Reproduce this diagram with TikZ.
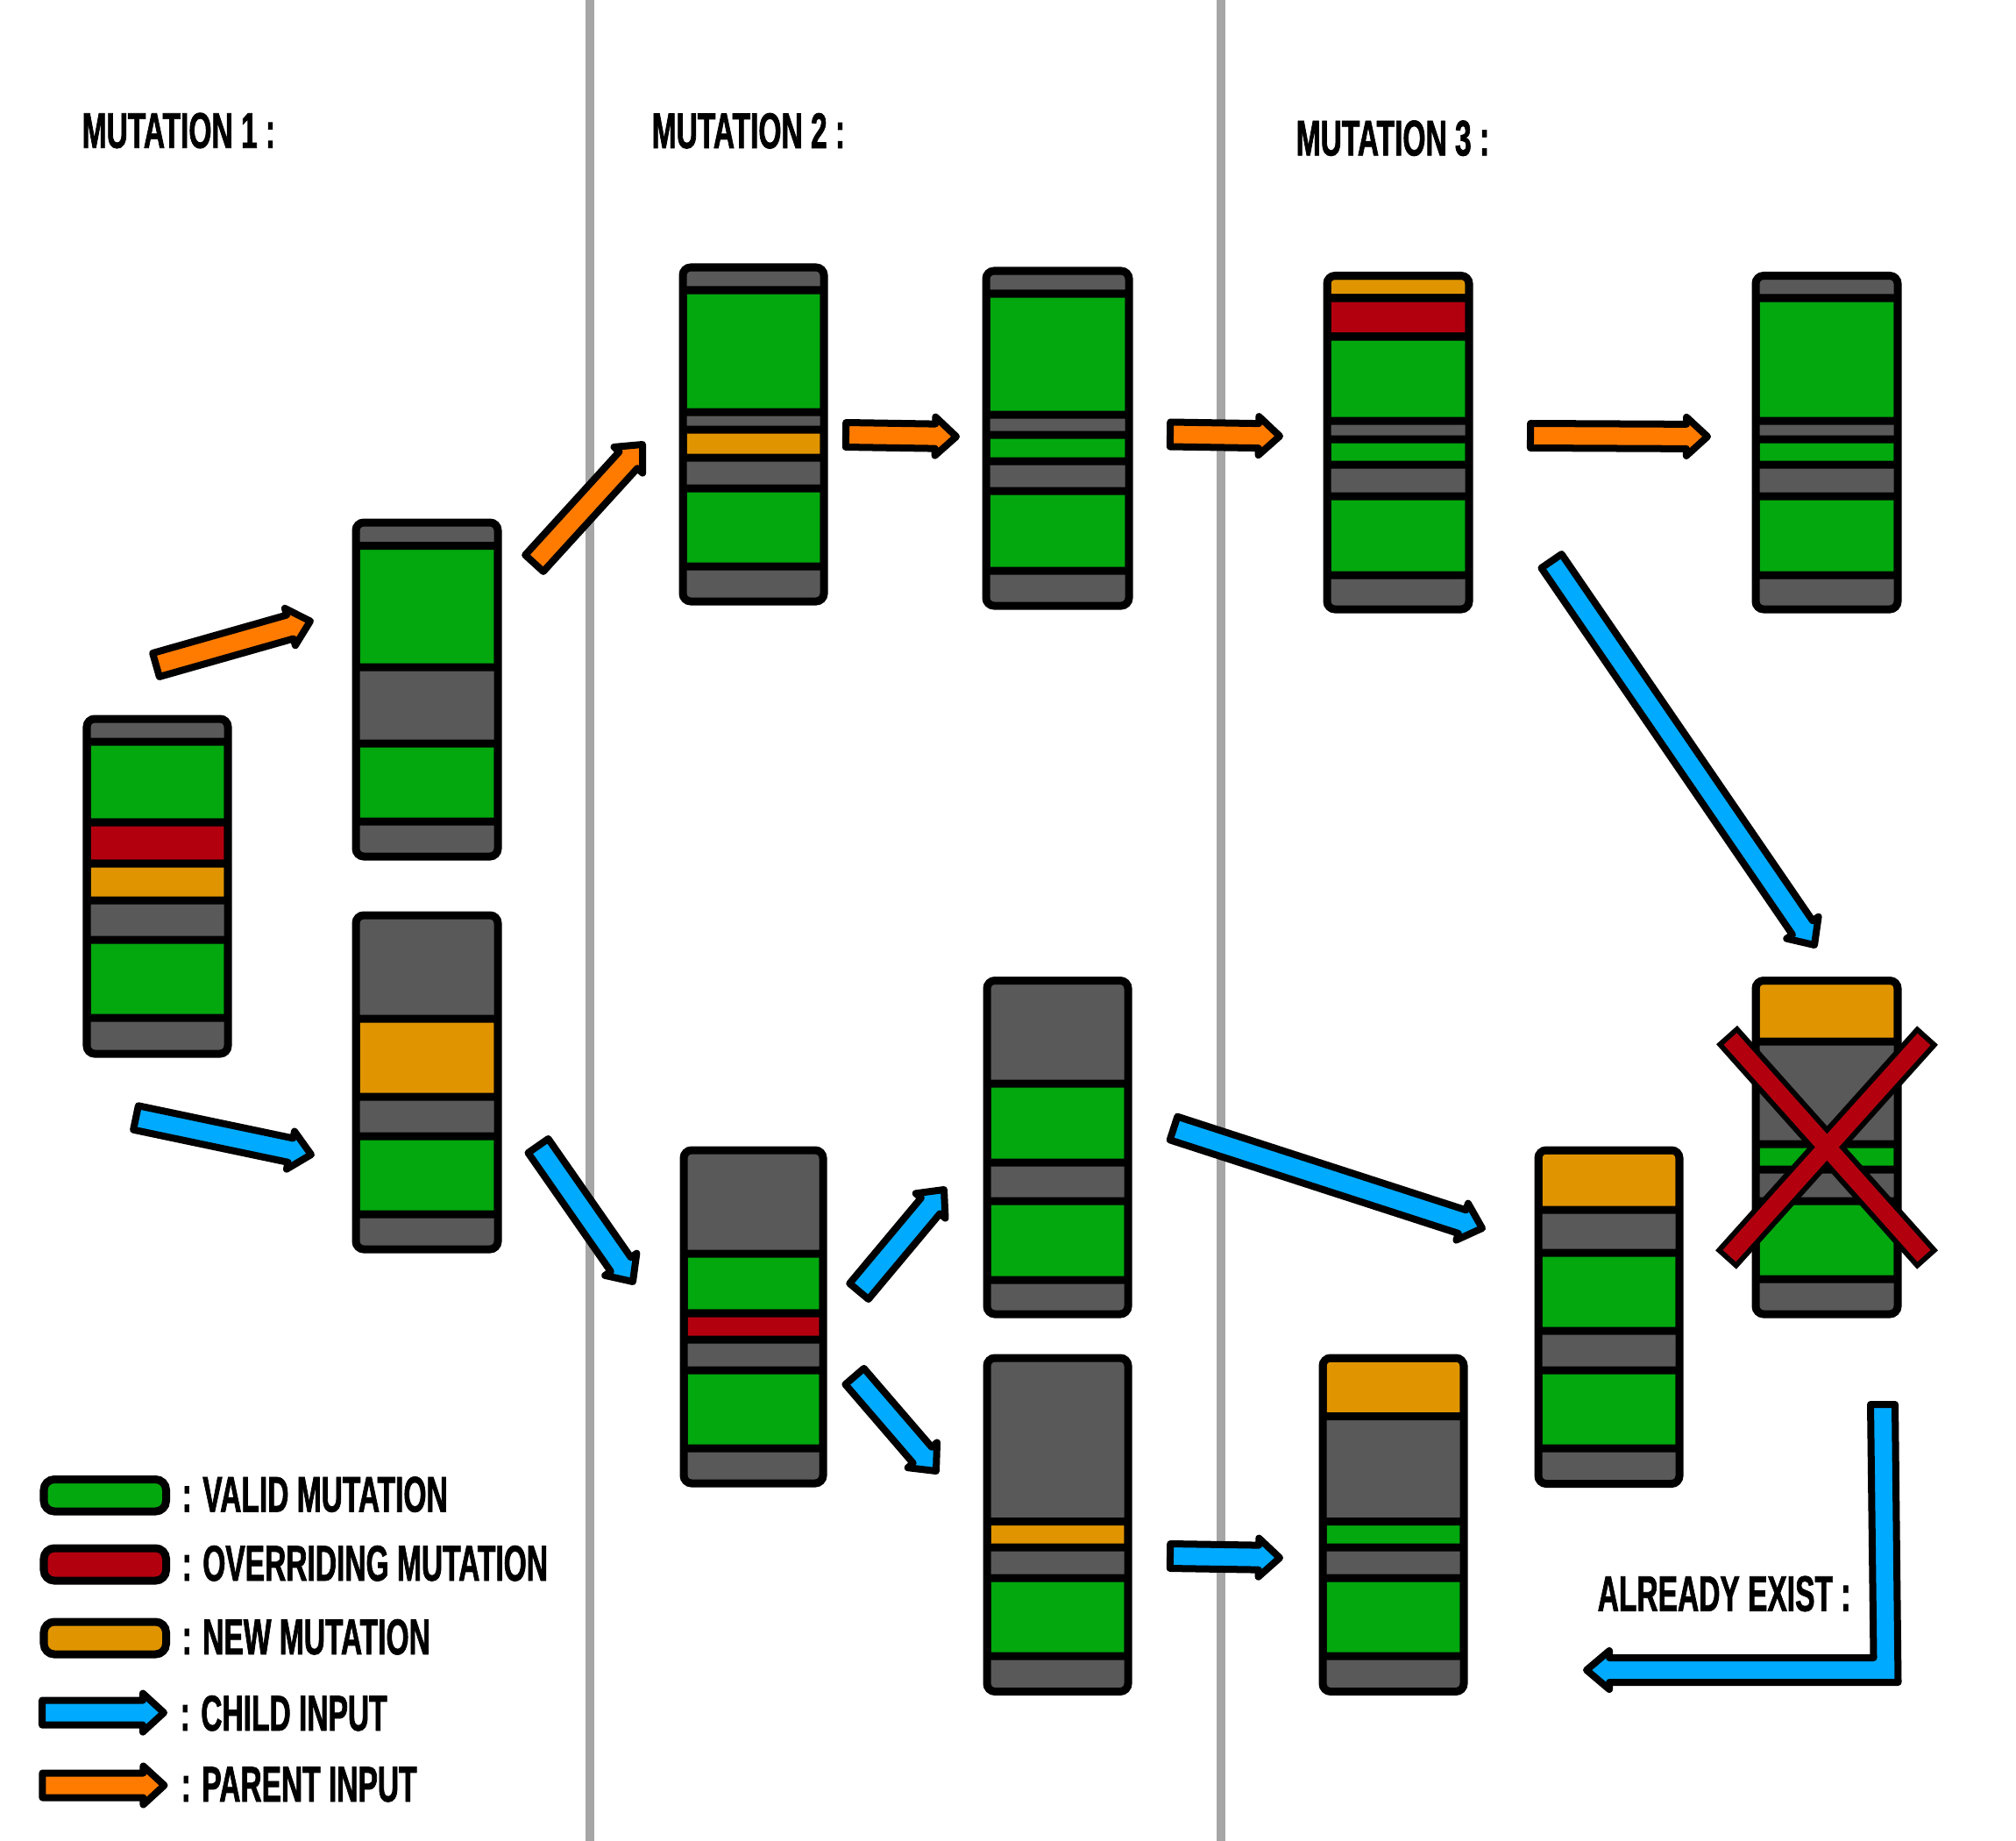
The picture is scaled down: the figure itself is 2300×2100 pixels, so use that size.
\documentclass[tikz,border=0pt]{standalone}
\usepackage{fontspec}
\newfontfamily\labelfont[FakeStretch=0.585, FakeBold=1.2]{Liberation Sans}
\usetikzlibrary{calc}

\definecolor{chromgray}{HTML}{595959}
\definecolor{vgreen}{HTML}{02A80E}
\definecolor{ored}{HTML}{B3000F}
\definecolor{norange}{HTML}{E09500}
\definecolor{childblue}{HTML}{00AAFF}
\definecolor{parentorange}{HTML}{FF7B00}
\definecolor{divider}{HTML}{A6A6A6}

% arrow sizes (half shaft, half head, head length)
\def\arrhw{0.14cm}
\def\arrhh{0.22cm}
\def\arrhl{0.24cm}

% #1 name, #2 left, #3 top, #4 right, #5 bottom, #6 bands top/bottom/colour
\newcommand{\chromo}[6]{%
  \coordinate (#1) at ({(#2+#4)/2},{(#3+#5)/2});
  \begin{scope}
    \clip[rounded corners=0.09cm] (#2,#3) rectangle (#4,#5);
    \fill[chromgray] (#2,#3) rectangle (#4,#5);
    \foreach \ya/\yb/\col in {#6}
      \draw[band, fill=\col] (#2,\ya) rectangle (#4,\yb);
  \end{scope}
  \draw[chromline] (#2,#3) rectangle (#4,#5);
}

% #1 colour, #2 tail, #3 tip
\newcommand{\blockarrow}[3]{%
  \draw[arrowline, fill=#1] let \p1=($(#3)-(#2)$), \n1={atan2(\y1,\x1)},
      \n2={\n1+90}, \n3={\n1-90}, \n4={\n1+180} in
    ($(#2)+(\n2:\arrhw)$) -- ($(#3)+(\n4:\arrhl)+(\n2:\arrhw)$)
    -- ($(#3)+(\n4:\arrhl)+(\n2:\arrhh)$) -- (#3)
    -- ($(#3)+(\n4:\arrhl)+(\n3:\arrhh)$) -- ($(#3)+(\n4:\arrhl)+(\n3:\arrhw)$)
    -- ($(#2)+(\n3:\arrhw)$) -- cycle;
}

\begin{document}
\begin{tikzpicture}[x=0.01cm, y=-0.01cm,
  chromline/.style={draw=black, line width=0.09cm, rounded corners=0.09cm},
  band/.style={draw=black, line width=0.09cm, rounded corners=0.03cm},
  arrowline/.style={draw=black, line width=0.08cm, line join=round},
  swatch/.style={draw=black, line width=0.09cm, rounded corners=0.12cm},
  headtext/.style={anchor=base west, inner sep=0pt,
    font=\labelfont\bfseries\fontsize{16.3pt}{18pt}\selectfont}]
\useasboundingbox (0,0) rectangle (2300,2100);

% column dividers
\draw[divider, line width=0.1cm] (673,0) -- (673,2100);
\draw[divider, line width=0.1cm] (1393,0) -- (1393,2100);

% titles
\node[headtext] (mut1) at (93,168.7) {MUTATION 1 :};
\node[headtext] (mut2) at (743,169) {MUTATION 2 :};
\node[headtext] (mut3) at (1478,177.4) {MUTATION 3 :};

% mutation 1
\chromo{chA}{99}{820}{260}{1202}{846/938/vgreen, 938/985/ored, 985/1027/norange, 1072/1161/vgreen}
\chromo{chB}{406}{596}{568}{977}{622.5/761/vgreen, 848/937/vgreen}
\chromo{chC}{406}{1044}{568}{1425}{1162/1251/norange, 1296/1385/vgreen}

% mutation 2
\chromo{chD}{779}{305}{940}{686}{331/470/vgreen, 490/522/norange, 557/646/vgreen}
\chromo{chE}{780}{1312}{939}{1692}{1430/1498/vgreen, 1498/1528/ored, 1563/1652/vgreen}
\chromo{chF}{1125}{309}{1288}{691}{335/473/vgreen, 496/526/vgreen, 560/651/vgreen}
\chromo{chG}{1126}{1118.5}{1287}{1499}{1236/1326/vgreen, 1370/1460/vgreen}
\chromo{chH}{1126}{1549}{1287}{1929.5}{1735.5/1765/norange, 1800/1889/vgreen}

% mutation 3
\chromo{chI}{1514}{314.5}{1676}{695}{314.5/340/norange, 340/384/ored, 384/480/vgreen, 501/530/vgreen, 566/656/vgreen}
\chromo{chJ}{2003}{314.5}{2165}{695}{340/480/vgreen, 501/530/vgreen, 566/656/vgreen}
\chromo{chK}{1509}{1549}{1670}{1929.5}{1549/1615.5/norange, 1735.5/1765/vgreen, 1800/1889/vgreen}
\chromo{chL}{1755}{1312}{1916}{1692.5}{1312/1380/norange, 1429/1518/vgreen, 1563/1652/vgreen}
\chromo{chM}{2003}{1118.5}{2165}{1499}{1118.5/1188/norange, 1305/1334/vgreen, 1370/1459/vgreen}

% arrow ends
\coordinate (o1s) at (178,758.5);   \coordinate (o1e) at (354,708.5);
\coordinate (o2s) at (609.5,642.5); \coordinate (o2e) at (733,507);
\coordinate (o3s) at (965,496);     \coordinate (o3e) at (1091,498);
\coordinate (o4s) at (1335,495.5);  \coordinate (o4e) at (1460,497.5);
\coordinate (o5s) at (1746,497);    \coordinate (o5e) at (1948,498);
\coordinate (b1s) at (155,1275);    \coordinate (b1e) at (355,1317);
\coordinate (b2s) at (614,1307);    \coordinate (b2e) at (722,1462);
\coordinate (b3s) at (980,1473);    \coordinate (b3e) at (1077,1357);
\coordinate (b4s) at (975,1570);    \coordinate (b4e) at (1068,1678);
\coordinate (b5s) at (1339,1287);   \coordinate (b5e) at (1691,1401);
\coordinate (b6s) at (1335,1775);   \coordinate (b6e) at (1460,1777);
\coordinate (b7s) at (1770,640);    \coordinate (b7e) at (2070,1078);

% parent inputs
\blockarrow{parentorange}{o1s}{o1e}
\blockarrow{parentorange}{o2s}{o2e}
\blockarrow{parentorange}{o3s}{o3e}
\blockarrow{parentorange}{o4s}{o4e}
\blockarrow{parentorange}{o5s}{o5e}

% child inputs
\blockarrow{childblue}{b1s}{b1e}
\blockarrow{childblue}{b2s}{b2e}
\blockarrow{childblue}{b3s}{b3e}
\blockarrow{childblue}{b4s}{b4e}
\blockarrow{childblue}{b5s}{b5e}
\blockarrow{childblue}{b6s}{b6e}
\blockarrow{childblue}{b7s}{b7e}

% crossed out child
\coordinate (xa1) at (1970,1180.5); \coordinate (xa2) at (2199,1437);
\coordinate (xb1) at (2199,1181);   \coordinate (xb2) at (1969,1437);
\draw[black, line width=0.32cm] (xa1) -- (xa2);
\draw[black, line width=0.32cm] (xb1) -- (xb2);
\draw[ored, line width=0.2cm] ($(xa1)!0.06cm!(xa2)$) -- ($(xa2)!0.06cm!(xa1)$);
\draw[ored, line width=0.2cm] ($(xb1)!0.06cm!(xb2)$) -- ($(xb2)!0.06cm!(xb1)$);

% already exist
\draw[arrowline, fill=childblue] (2134,1602) -- (2162,1602) -- (2165.5,1919)
  -- (1836,1919) -- (1836,1927) -- (1810,1905) -- (1836,1883) -- (1836,1891)
  -- (2137.5,1891) -- cycle;
\node[headtext] (exist) at (1822,1837.7) {ALREADY EXIST :};

% legend
\draw[swatch, fill=vgreen] (50,1687.5) rectangle (189.5,1724);
\draw[swatch, fill=ored] (50,1766) rectangle (189.5,1803);
\draw[swatch, fill=norange] (50,1850) rectangle (189.5,1887);
\coordinate (lbs) at (48,1953.6);   \coordinate (lbe) at (187,1953.6);
\coordinate (los) at (48.4,2036.5); \coordinate (loe) at (187.5,2036.5);
\blockarrow{childblue}{lbs}{lbe}
\blockarrow{parentorange}{los}{loe}
\node[headtext] (valid) at (207,1724.4) {: VALID MUTATION};
\node[headtext] (over) at (207,1803) {: OVERRIDING MUTATION};
\node[headtext] (new) at (207,1887) {: NEW MUTATION};
\node[headtext] (child) at (205,1974) {: CHILD INPUT};
\node[headtext] (parent) at (206,2055) {: PARENT INPUT};
\end{tikzpicture}
\end{document}
